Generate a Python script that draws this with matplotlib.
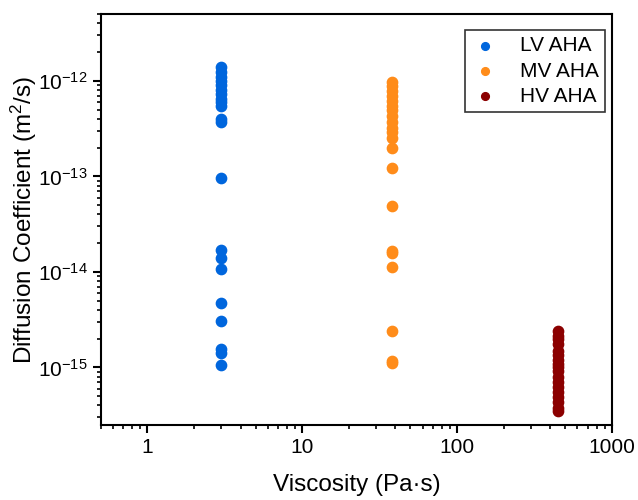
import matplotlib
matplotlib.use("Agg")
import matplotlib.pyplot as plt

plt.rcParams['font.family'] = ['Liberation Sans', 'DejaVu Sans']
plt.rcParams['mathtext.fontset'] = 'custom'
plt.rcParams['mathtext.rm'] = 'Liberation Sans'
plt.rcParams['mathtext.it'] = 'Liberation Sans:italic'
plt.rcParams['mathtext.bf'] = 'Liberation Sans:bold'

# viscosity of each gel (Pa·s)
lv_visc = 3.0
mv_visc = 38.0
hv_visc = 450.0

# diffusion coefficients (m^2/s)
lv_D = [1.4e-12, 1.25e-12, 1.1e-12, 1.0e-12, 9e-13, 8e-13, 7.2e-13, 6.5e-13,
        6e-13, 5.5e-13, 4.0e-13, 3.7e-13, 9.6e-14, 1.71e-14, 1.40e-14,
        1.06e-14, 4.7e-15, 3.06e-15, 1.55e-15, 1.43e-15, 1.07e-15]
mv_D = [9.8e-13, 8.9e-13, 7.9e-13, 7.0e-13, 6.2e-13, 5.5e-13, 4.9e-13,
        4.3e-13, 3.7e-13, 3.2e-13, 2.9e-13, 2.5e-13, 2.0e-13, 1.22e-13,
        4.9e-14, 1.64e-14, 1.58e-14, 1.12e-14, 2.4e-15, 1.17e-15, 1.12e-15]
hv_D = [2.38e-15, 2.16e-15, 1.97e-15, 1.74e-15, 1.47e-15, 1.34e-15, 1.21e-15,
        1.10e-15, 1.0e-15, 9.1e-16, 7.9e-16, 7.0e-16, 6.2e-16, 5.5e-16,
        4.9e-16, 4.3e-16, 3.8e-16, 3.5e-16]

fig = plt.figure(figsize=(6.38, 5), dpi=100)
ax = fig.add_axes([0.158, 0.15, 0.801, 0.822])

ax.scatter([lv_visc] * len(lv_D), lv_D, s=55, color='#0066dd', label='LV AHA', zorder=3)
ax.scatter([mv_visc] * len(mv_D), mv_D, s=55, color='#ff8c1a', label='MV AHA', zorder=3)
ax.scatter([hv_visc] * len(hv_D), hv_D, s=55, color='#8b0000', label='HV AHA', zorder=3)

ax.set_xscale('log')
ax.set_yscale('log')
ax.set_xlim(0.5, 1000)
ax.set_ylim(2.5e-16, 5e-12)
ax.set_xticks([1, 10, 100, 1000])
ax.set_xticklabels(['1', '10', '100', '1000'])
ax.set_yticks([1e-15, 1e-14, 1e-13, 1e-12])

ax.set_xlabel('Viscosity (Pa·s)', fontsize=17.5, labelpad=12)
ax.set_ylabel('Diffusion Coefficient (m$^2$/s)', fontsize=17.5)
ax.yaxis.set_label_coords(-0.12, 0.5)

for s in ax.spines.values():
    s.set_linewidth(1.5)
ax.tick_params(which='major', direction='out', length=6, width=1.5, labelsize=15, top=False, right=False)
ax.tick_params(which='minor', direction='out', length=3, width=1.2, top=False, right=False)

leg = ax.legend(loc='upper right', fontsize=15, frameon=True, fancybox=False,
                edgecolor='black', handletextpad=1.0, borderpad=0.3,
                labelspacing=0.3, handlelength=1.3, markerscale=0.75,
                borderaxespad=0, bbox_to_anchor=(0.986, 0.961))
leg.get_frame().set_linewidth(1.2)

fig.savefig('out.png', dpi=100)
